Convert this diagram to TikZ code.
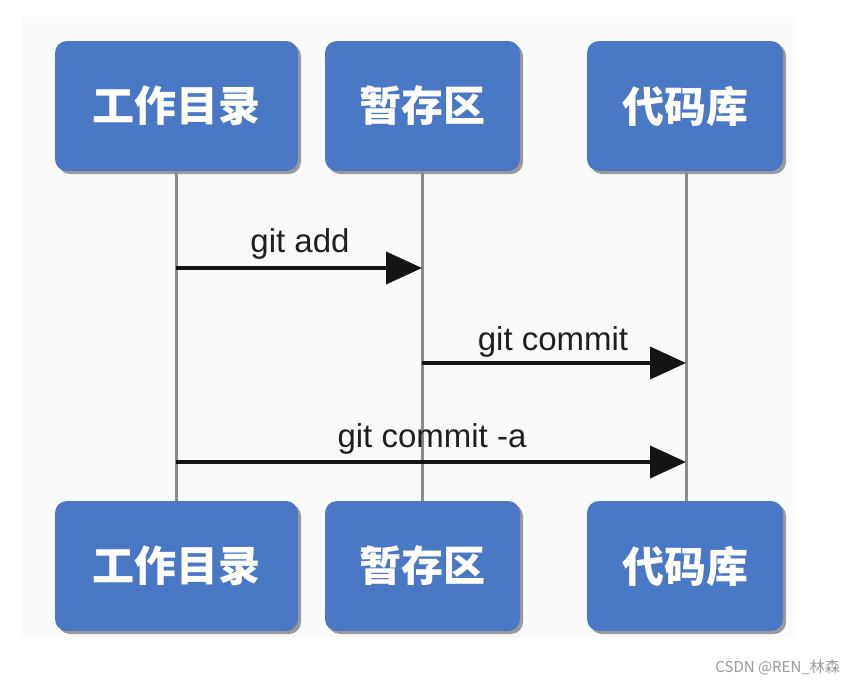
\documentclass[tikz,border=0pt]{standalone}
\usepackage{fontspec}
\setmainfont{Liberation Sans}
\newfontfamily\cjk{Noto Sans CJK SC}
\usetikzlibrary{arrows.meta,shadows}
\definecolor{boxblue}{HTML}{4A78C4}
\definecolor{lifegray}{HTML}{8A8A8A}
\definecolor{paper}{HTML}{FAFAFA}
\definecolor{wmgray}{HTML}{9A9A9A}
\tikzset{
  stagebox/.style={fill=boxblue, rounded corners=12pt, text=white,
    font=\cjk\bfseries\fontsize{42}{42}\selectfont,
    drop shadow={shadow xshift=3pt, shadow yshift=-3pt, opacity=0.55, fill=black!70},
    minimum height=130pt, inner sep=0pt},
  lifeline/.style={draw=lifegray, line width=3pt},
  msg/.style={draw=black!92, line width=4pt, -{Triangle[length=36pt,width=32pt]}},
  msglabel/.style={font=\fontsize{33}{33}\selectfont, text=black!88, inner sep=0pt, anchor=base}
}
\begin{document}
\begin{tikzpicture}[x=1pt,y=-1pt]
\useasboundingbox (0,0) rectangle (855,683);
\fill[paper] (22,17) rectangle (795,637);
% top boxes
\node[stagebox, minimum width=243pt] (w1) at (176.5,106) {工作目录};
\node[stagebox, minimum width=195pt] (s1) at (422.5,106) {暂存区};
\node[stagebox, minimum width=196pt] (r1) at (685,106) {代码库};
% bottom boxes
\node[stagebox, minimum width=243pt] (w2) at (176.5,566) {工作目录};
\node[stagebox, minimum width=195pt] (s2) at (422.5,566) {暂存区};
\node[stagebox, minimum width=196pt] (r2) at (685,566) {代码库};
% lifelines
\coordinate (wl) at (176,171);
\coordinate (sl) at (422,171);
\coordinate (rl) at (686,171);
\coordinate (wb) at (176,501);
\coordinate (sb) at (422,501);
\coordinate (rb) at (686,501);
\draw[lifeline] (wl) -- (wb);
\draw[lifeline] (sl) -- (sb);
\draw[lifeline] (rl) -- (rb);
% message points
\coordinate (a1s) at (176,268);
\coordinate (a1e) at (422,268);
\coordinate (a2s) at (422,363);
\coordinate (a2e) at (686,363);
\coordinate (a3s) at (176,462);
\coordinate (a3e) at (686,462);
\draw[msg] (a1s) -- (a1e);
\draw[msg] (a2s) -- (a2e);
\draw[msg] (a3s) -- (a3e);
\node[msglabel] (l1) at (300,252) {git add};
\node[msglabel] (l2) at (553,350) {git commit};
\node[msglabel] (l3) at (432,447) {git commit -a};
% watermark
\node[anchor=base east, inner sep=0pt, text=wmgray, font=\cjk\fontsize{15}{15}\selectfont] (wm) at (840,672) {CSDN @REN\_林森};
\end{tikzpicture}
\end{document}
